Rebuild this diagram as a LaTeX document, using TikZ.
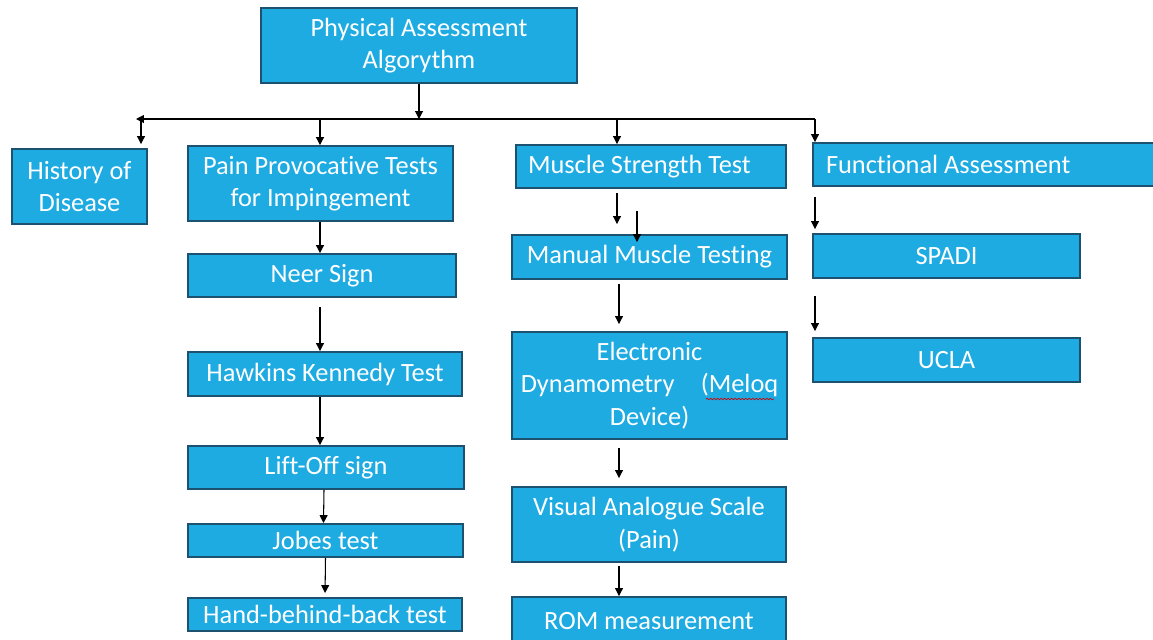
\documentclass[tikz,border=0pt]{standalone}
\usepackage{fontspec}
\setmainfont{Carlito}[Ligatures = NoCommon]
\usetikzlibrary{arrows.meta,decorations.pathmorphing}

\definecolor{boxblue}{RGB}{30,171,226}
\definecolor{boxedge}{RGB}{28,82,112}

\tikzset{
  box/.style = {draw = boxedge, line width = 1.1pt, fill = boxblue, text = white,
                align = center, inner sep = 0pt, font = \fontsize{15}{18.5}\selectfont},
  arr/.style = {-{Triangle[length = 4.5pt, width = 4.5pt]}, line width = 0.6pt}
}

\begin{document}
\begin{tikzpicture}
\useasboundingbox (0,0) rectangle (23.06,-12.78);

% boxes
\node[box, minimum width = 6.32cm, minimum height = 1.50cm] (top) at (8.38,-0.91) {Physical Assessment\\Algorythm};
\node[box, minimum width = 2.70cm, minimum height = 1.50cm] (hist) at (1.59,-3.73) {History of\\Disease};

\node[box, minimum width = 5.30cm, minimum height = 1.50cm] (pain) at (6.41,-3.67) {Pain Provocative Tests\\for Impingement};
\node[box, minimum width = 5.36cm, minimum height = 0.86cm] (neer) at (6.44,-5.51) {Neer Sign};
\node[box, minimum width = 5.48cm, minimum height = 0.88cm] (hawk) at (6.50,-7.48) {Hawkins Kennedy Test};
\node[box, minimum width = 5.52cm, minimum height = 0.86cm] (lift) at (6.52,-9.35) {Lift-Off sign};
\node[box, minimum width = 5.50cm, minimum height = 0.66cm] (jobes) at (6.51,-10.81) {Jobes test};
\node[box, minimum width = 5.48cm, minimum height = 0.66cm] (hand) at (6.50,-12.29) {Hand-behind-back test};

\node[box, text width = 4.92cm, align = flush left, inner xsep = 0.24cm, minimum height = 0.86cm] (mst) at (13.02,-3.33) {Muscle Strength Test};
\node[box, minimum width = 5.50cm, minimum height = 0.88cm] (manual) at (12.99,-5.14) {Manual Muscle Testing};
\node[box, minimum width = 5.50cm, minimum height = 2.14cm] (elec) at (12.99,-7.71) {Electronic\\Dynamometry\quad(Meloq\\Device)};
\node[box, minimum width = 5.48cm, minimum height = 1.50cm] (vas) at (12.98,-10.49) {Visual Analogue Scale\\(Pain)};
\node[box, minimum width = 5.48cm, minimum height = 0.96cm] (rom) at (12.98,-12.42) {ROM measurement};

\node[box, text width = 6.42cm, align = flush left, inner xsep = 0.26cm, minimum height = 0.86cm] (func) at (19.73,-3.29) {Functional Assessment};
\node[box, minimum width = 5.34cm, minimum height = 0.88cm] (spadi) at (18.93,-5.12) {SPADI};
\node[box, minimum width = 5.34cm, minimum height = 0.88cm] (ucla) at (18.93,-7.20) {UCLA};

% spell check mark
\draw[red!80!black, line width = 0.4pt, decorate, decoration = {snake, amplitude = 0.4pt, segment length = 2pt}] (14.12,-7.98) -- (15.48,-7.98);

% bus
\coordinate (busL) at (2.72,-2.38);
\coordinate (busR) at (16.30,-2.38);
\coordinate (cA) at (6.40,0);
\coordinate (cM) at (12.34,0);
\coordinate (cB) at (12.38,0);

\draw[arr] (top.south) -- (top.south |- busL);
\draw[arr] (busR) -- (busL);
\draw[arr, shorten >= 0.08cm] ([xshift = 0.1cm]busL) -- ([xshift = 0.1cm]busL |- hist.north);
\draw[arr] (busL -| cA) -- (pain.north -| cA);
\draw[arr] (busL -| cM) -- (mst.north -| cM);
\draw[arr] (busR) -- (busR |- func.north);

% left column
\draw[arr] (pain.south -| cA) -- (neer.north -| cA);
\draw[arr, shorten <= 0.18cm] (neer.south -| cA) -- (hawk.north -| cA);
\draw[arr] (hawk.south -| cA) -- (lift.north -| cA);
\draw[arr] ([xshift = -0.04cm]lift.south) -- ([xshift = -0.04cm]jobes.north);
\draw[arr, shorten >= 0.08cm] (jobes.south) -- (hand.north);

% middle column
\draw[arr, shorten <= 0.08cm, shorten >= 0.2cm] (mst.south -| cM) -- (manual.north -| cM);
\draw[arr, shorten <= 0.44cm, shorten >= -0.16cm] ([xshift = 0.4cm]mst.south -| cM) -- ([xshift = 0.4cm]manual.north -| cM);
\draw[arr, shorten <= 0.08cm, shorten >= 0.14cm] (manual.south -| cB) -- (elec.north -| cB);
\draw[arr, shorten <= 0.16cm, shorten >= 0.16cm] (elec.south -| cB) -- (vas.north -| cB);
\draw[arr, shorten <= 0.06cm] (vas.south -| cB) -- (rom.north -| cB);

% right column
\draw[arr, shorten <= 0.2cm, shorten >= 0.08cm] (func.south -| busR) -- (spadi.north -| busR);
\draw[arr, shorten <= 0.34cm, shorten >= 0.12cm] (spadi.south -| busR) -- (ucla.north -| busR);
\end{tikzpicture}
\end{document}
